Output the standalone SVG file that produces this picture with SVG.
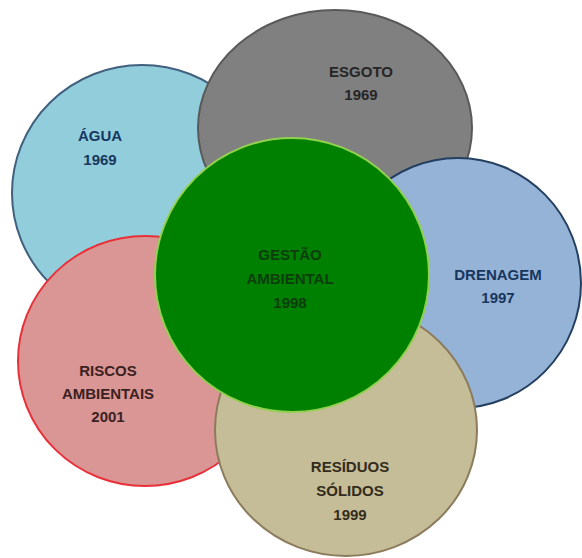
<svg xmlns="http://www.w3.org/2000/svg" width="582" height="558" viewBox="0 0 582 558">
  <style>
    .lbl { font-family: "Liberation Sans", Arial, sans-serif; font-size: 15px; font-weight: bold; text-anchor: middle; }
    .c { stroke-width: 2; }
  </style>
  <rect width="582" height="558" fill="#ffffff"/>
  <g id="agua">
    <ellipse class="c" cx="142" cy="193" rx="130" ry="128" fill="#92cddc" stroke="#41607e"/>
    <text class="lbl" fill="#17375e" x="100" y="141">ÁGUA</text>
    <text class="lbl" fill="#17375e" x="100" y="165">1969</text>
  </g>
  <g id="esgoto">
    <ellipse class="c" cx="335" cy="128" rx="137" ry="118" fill="#808080" stroke="#595959"/>
    <text class="lbl" fill="#262626" x="361" y="77">ESGOTO</text>
    <text class="lbl" fill="#262626" x="361" y="100">1969</text>
  </g>
  <g id="drenagem">
    <ellipse class="c" cx="458" cy="283" rx="123" ry="125" fill="#95b3d7" stroke="#243f60"/>
    <text class="lbl" fill="#17365d" x="498" y="280">DRENAGEM</text>
    <text class="lbl" fill="#17365d" x="498" y="303">1997</text>
  </g>
  <g id="riscos">
    <ellipse class="c" cx="145" cy="361" rx="127" ry="125" fill="#d99694" stroke="#e8303a"/>
    <text class="lbl" fill="#3b2222" x="108" y="376">RISCOS</text>
    <text class="lbl" fill="#3b2222" x="108" y="399">AMBIENTAIS</text>
    <text class="lbl" fill="#3b2222" x="108" y="422">2001</text>
  </g>
  <g id="residuos">
    <ellipse class="c" cx="346" cy="430" rx="131" ry="126" fill="#c4bd97" stroke="#8c7b5c"/>
    <text class="lbl" fill="#332c1c" x="350" y="472">RESÍDUOS</text>
    <text class="lbl" fill="#332c1c" x="350" y="496">SÓLIDOS</text>
    <text class="lbl" fill="#332c1c" x="350" y="520">1999</text>
  </g>
  <g id="gestao">
    <circle class="c" cx="292" cy="275" r="137" fill="#008000" stroke="#92d050"/>
    <text class="lbl" fill="#0d3d0d" x="290" y="260">GESTÃO</text>
    <text class="lbl" fill="#0d3d0d" x="290" y="284">AMBIENTAL</text>
    <text class="lbl" fill="#0d3d0d" x="290" y="308">1998</text>
  </g>
</svg>
